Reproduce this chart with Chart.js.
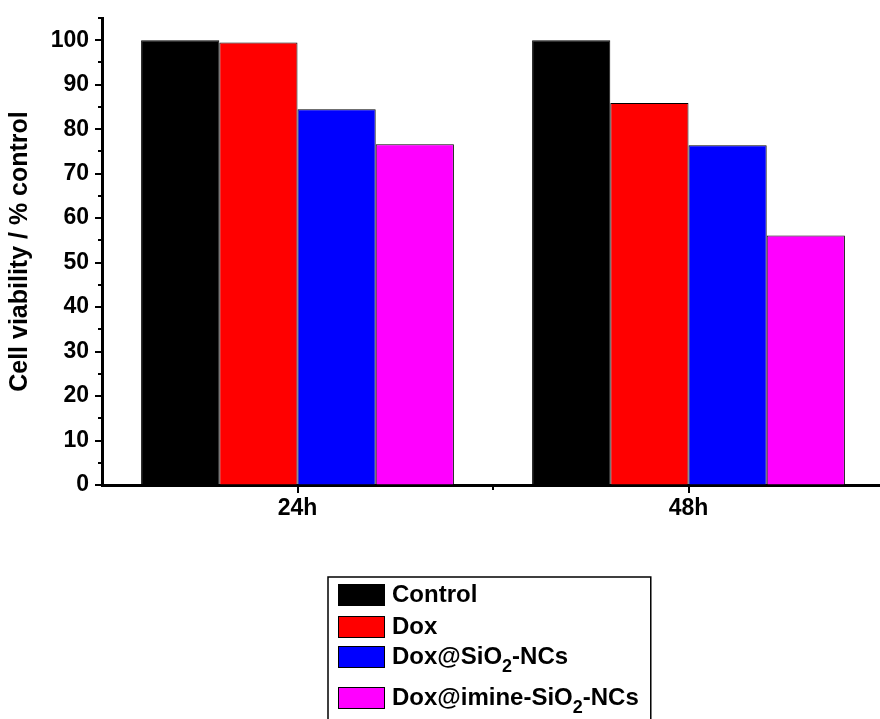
<!DOCTYPE html>
<html>
<head>
<meta charset="utf-8">
<script src="https://cdn.jsdelivr.net/npm/chart.js@4.4.1/dist/chart.umd.min.js"></script>
<style>
  html, body { margin: 0; padding: 0; background: #fff; overflow: hidden; }
  #wrap { width: 884px; height: 719px; position: relative; }
</style>
</head>
<body>
<div id="wrap"><canvas id="c" width="884" height="719"></canvas></div>
<script>
// ---- data ----
const categories = ['24h', '48h'];
const seriesNames = ['Control', 'Dox', 'Dox@SiO₂-NCs', 'Dox@imine-SiO₂-NCs'];
const controlValues = [100, 100];
const doxValues = [99.5, 85.9];
const doxSiO2Values = [84.5, 76.4];
const doxImineValues = [76.6, 56.1];
const seriesColors = ['#000000', '#ff0000', '#0000ff', '#ff00ff'];
const yAxisTitle = 'Cell viability / % control';
const yTickValues = [0, 10, 20, 30, 40, 50, 60, 70, 80, 90, 100];
const yMinorTickValues = [5, 15, 25, 35, 45, 55, 65, 75, 85, 95, 105];
const yMin = 0, yMax = 105;

const FONT = "'Liberation Sans', Arial, sans-serif";

const seriesValues = [controlValues, doxValues, doxSiO2Values, doxImineValues];

// custom tick marks (major + minor)
const tickPlugin = {
  id: 'tickMarks',
  afterDraw(chart) {
    const ctx = chart.ctx;
    const y = chart.scales.y, x = chart.scales.x;
    const area = chart.chartArea;
    ctx.save();
    ctx.strokeStyle = '#000';
    ctx.lineWidth = 2;
    ctx.lineCap = 'butt';
    const drawY = (v, len) => {
      const py = Math.round(y.getPixelForValue(v));
      ctx.beginPath();
      ctx.moveTo(area.left, py);
      ctx.lineTo(area.left - len, py);
      ctx.stroke();
    };
    yTickValues.forEach(v => drawY(v, 7));
    yMinorTickValues.forEach(v => drawY(v, 4));
    for (let i = 0; i < categories.length; i++) {
      const px = Math.round(x.getPixelForValue(i));
      ctx.beginPath();
      ctx.moveTo(px, area.bottom);
      ctx.lineTo(px, area.bottom + 8);
      ctx.stroke();
      if (i < categories.length - 1) {
        const mx = Math.round((x.getPixelForValue(i) + x.getPixelForValue(i + 1)) / 2);
        ctx.beginPath();
        ctx.moveTo(mx, area.bottom);
        ctx.lineTo(mx, area.bottom + 5);
        ctx.stroke();
      }
    }
    ctx.restore();
  }
};

// legend with subscript rendering
const legendPlugin = {
  id: 'customLegend',
  afterDraw(chart) {
    const ctx = chart.ctx;
    ctx.save();
    const boxL = 328, boxT = 577, textX = 392;
    const baselines = [602, 634, 664, 705];
    const mainFont = 'bold 24px ' + FONT;
    const subFont = 'bold 18px ' + FONT;
    let maxRight = 0;
    ctx.textBaseline = 'alphabetic';
    ctx.textAlign = 'left';
    chart.data.datasets.forEach((ds, i) => {
      const bl = baselines[i];
      ctx.fillStyle = ds.backgroundColor;
      ctx.fillRect(338, bl - 18, 47, 22);
      ctx.strokeStyle = '#000';
      ctx.lineWidth = 1;
      ctx.strokeRect(338.5, bl - 17.5, 46, 21);
      let tx = textX;
      ctx.fillStyle = '#000';
      ds.label.split(/(₂)/).forEach(p => {
        if (!p) return;
        if (p === '₂') {
          ctx.font = subFont;
          ctx.fillText('2', tx, bl + 8);
          tx += ctx.measureText('2').width;
        } else {
          ctx.font = mainFont;
          ctx.fillText(p, tx, bl);
          tx += ctx.measureText(p).width;
        }
      });
      maxRight = Math.max(maxRight, tx);
    });
    ctx.strokeStyle = '#000';
    ctx.lineWidth = 1.5;
    ctx.strokeRect(boxL, boxT, maxRight + 12 - boxL, 150);
    ctx.restore();
  }
};

new Chart(document.getElementById('c'), {
  type: 'bar',
  data: {
    labels: categories,
    datasets: seriesNames.map((name, i) => ({
      label: name,
      data: seriesValues[i],
      backgroundColor: seriesColors[i],
      borderColor: '#000',
      borderWidth: 1,
      borderSkipped: 'bottom',
      categoryPercentage: 0.8,
      barPercentage: 1.0
    }))
  },
  options: {
    responsive: false,
    animation: false,
    devicePixelRatio: 1,
    layout: { padding: { top: 18, right: 0, left: 0, bottom: 0 } },
    plugins: {
      legend: { display: false },
      tooltip: { enabled: false }
    },
    scales: {
      x: {
        grid: { display: true, drawOnChartArea: false, drawTicks: false },
        border: { display: true, color: '#000', width: 3 },
        ticks: { color: '#000', font: { family: FONT, size: 23, weight: 'bold' }, padding: 10 },
        afterFit(scale) { scale.height = 234; scale.paddingLeft = 0; scale.paddingRight = 0; }
      },
      y: {
        min: yMin,
        max: yMax,
        grid: { display: true, drawOnChartArea: false, drawTicks: false },
        border: { display: true, color: '#000', width: 3 },
        ticks: {
          color: '#000',
          font: { family: FONT, size: 23, weight: 'bold' },
          padding: 13
        },
        afterBuildTicks(scale) {
          scale.ticks = yTickValues.map(v => ({ value: v }));
        },
        title: {
          display: true,
          text: yAxisTitle,
          color: '#000',
          font: { family: FONT, size: 25, weight: 'bold' },
          padding: { top: 5, bottom: 0 }
        },
        afterFit(scale) { scale.width = 102; scale.paddingTop = 0; scale.paddingBottom = 0; }
      }
    }
  },
  plugins: [tickPlugin, legendPlugin]
});
</script>
</body>
</html>
